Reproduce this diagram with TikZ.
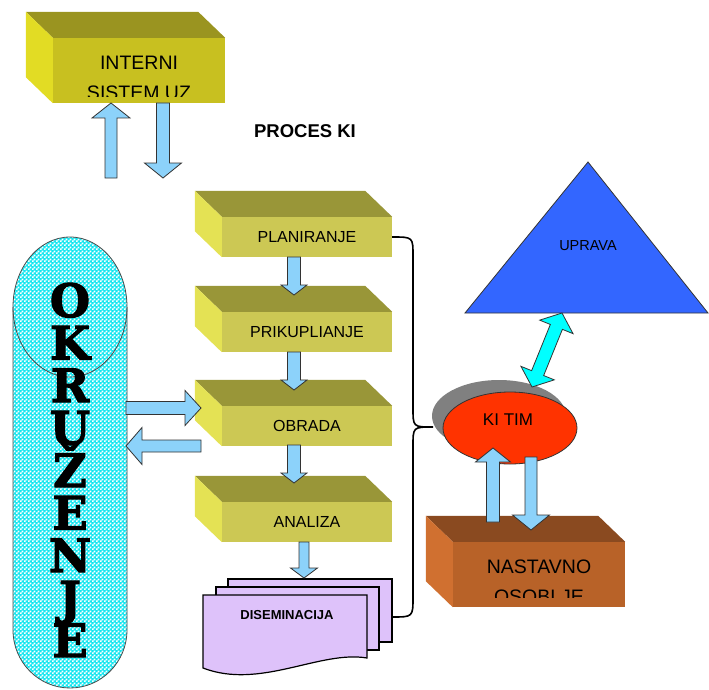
\documentclass[tikz,border=0pt]{standalone}
\usepackage{fontspec}
\setmainfont{Liberation Sans}
\newfontfamily\envfont{DejaVu Serif}[BoldFeatures={FakeBold=2.5}]
\usetikzlibrary{calc}
\usetikzlibrary{patterns}
\usetikzlibrary{shapes.geometric}
\definecolor{procfront}{RGB}{204,200,84}
\definecolor{proctop}{RGB}{153,150,56}
\definecolor{procside}{RGB}{228,226,84}
\definecolor{sysfront}{RGB}{200,192,32}
\definecolor{systop}{RGB}{154,148,32}
\definecolor{sysside}{RGB}{226,220,36}
\definecolor{stafffront}{RGB}{184,98,40}
\definecolor{stafftop}{RGB}{138,74,32}
\definecolor{staffside}{RGB}{208,112,48}
\definecolor{arrowblue}{RGB}{140,210,250}
\definecolor{arrowcyan}{RGB}{0,255,255}
\definecolor{docfill}{RGB}{222,194,250}
\definecolor{kired}{RGB}{255,51,0}
\definecolor{upblue}{RGB}{51,102,255}
\definecolor{envcyan}{RGB}{20,230,240}
% white squares for the dotted fill
\pgfdeclarepatternformonly{envdots}{\pgfpoint{0pt}{0pt}}{\pgfpoint{4pt}{4pt}}{\pgfpoint{4pt}{4pt}}{%
  \pgfpathrectangle{\pgfpoint{0pt}{0pt}}{\pgfpoint{2.1pt}{2.1pt}}
  \pgfpathrectangle{\pgfpoint{2pt}{2pt}}{\pgfpoint{2.1pt}{2.1pt}}
  \pgfusepath{fill}}
\tikzset{
  procbox/.style={fill=procfront, minimum width=170pt, minimum height=40pt, inner sep=0pt, font=\fontsize{16}{18}\selectfont},
  sysbox/.style={fill=sysfront, minimum width=172pt, minimum height=65pt, inner sep=0pt},
  staffbox/.style={fill=stafffront, minimum width=172pt, minimum height=65pt, inner sep=0pt},
  bigtext/.style={font=\fontsize{19.5}{22}\selectfont, anchor=base, inner sep=0pt},
  barrow/.style={fill=arrowblue, draw=black!80, line width=0.8pt},
  carrow/.style={fill=arrowcyan, draw=black!80, line width=0.8pt},
  docsheet/.style={fill=docfill, draw=black, line width=1.2pt},
  envletter/.style={font=\envfont\bfseries\fontsize{46}{46}\selectfont, anchor=base, inner sep=0pt},
}
% top and left faces of a box whose front face is node #1
\newcommand\slabfaces[3]{%
  \fill[#2] (#1.north west) -- ++(-27,-26) -- ($(#1.north east)+(-27,-26)$) -- (#1.north east) -- cycle;
  \fill[#3] (#1.north west) -- ++(-27,-26) -- ($(#1.south west)+(-27,-26)$) -- (#1.south west) -- cycle;
}
% block arrow: from, to, shaft half width, head half width, head length
\newcommand\blockarrow[5]{%
  \coordinate (hb) at ($(#2)!#5!(#1)$);
  \filldraw[barrow] ($(#1)!#3!90:(#2)$) -- ($(hb)!#3!90:(#2)$) -- ($(hb)!#4!90:(#2)$) -- (#2)
    -- ($(hb)!#4!-90:(#2)$) -- ($(hb)!#3!-90:(#2)$) -- ($(#1)!#3!-90:(#2)$) -- cycle;
}
% double block arrow
\newcommand\dblarrow[5]{%
  \coordinate (ha) at ($(#1)!#5!(#2)$);
  \coordinate (hb) at ($(#2)!#5!(#1)$);
  \filldraw[carrow] (#1) -- ($(ha)!#4!90:(#2)$) -- ($(ha)!#3!90:(#2)$) -- ($(hb)!#3!90:(#2)$) -- ($(hb)!#4!90:(#2)$) -- (#2)
    -- ($(hb)!#4!-90:(#2)$) -- ($(hb)!#3!-90:(#2)$) -- ($(ha)!#3!-90:(#2)$) -- ($(ha)!#4!-90:(#2)$) -- cycle;
}
\begin{document}
\begin{tikzpicture}[x=1pt, y=-1pt]
\useasboundingbox (0,0) rectangle (709,690);

% okruzenje
\path[fill=envcyan, postaction={pattern=envdots, pattern color=white}, postaction={draw=black!70, line width=0.8pt}]
  (13,307) .. controls (13,268.3) and (38.5,237) .. (70,237) .. controls (101.5,237) and (127,268.3) .. (127,307)
  -- (127,630) .. controls (127,662) and (101.5,688) .. (70,688) .. controls (38.5,688) and (13,662) .. (13,630) -- cycle;
\draw[black!70, line width=0.8pt] (13,307) .. controls (13,345.7) and (38.5,377) .. (70,377) .. controls (101.5,377) and (127,345.7) .. (127,307);
\foreach \ch [count=\i] in {O,K,R,U,Ž,E,N,J,E}
  \node[envletter] (env\i) at (70,{317+42.5*(\i-1)}) {\ch};

% interni sistem
\node[sysbox] (intsys) at (139,70.5) {};
\slabfaces{intsys}{systop}{sysside}
\begin{scope}
  \clip (intsys.north west) rectangle ($(intsys.south east)+(0,-7)$);
  \node[bigtext] (intline1) at (139,70) {INTERNI};
  \node[bigtext] (intline2) at (139,100) {SISTEM UZ};
\end{scope}

\node[font=\bfseries\fontsize{18.5}{20}\selectfont] (title) at (305,131) {PROCES KI};

% process boxes
\node[procbox] (plan) at (307,237) {PLANIRANJE};
\node[procbox] (prik) at (307,332) {PRIKUPLIANJE};
\node[procbox] (obr) at (307,426) {OBRADA};
\node[procbox] (anal) at (307,522) {ANALIZA};
\foreach \n in {plan,prik,obr,anal} {
  \slabfaces{\n}{proctop}{procside}
}

% diseminacija
\filldraw[docsheet] (228,579) rectangle (392,642);
\filldraw[docsheet] (216,587) rectangle (379,650);
\filldraw[docsheet] (203,595) -- (367,595) -- (367,658) .. controls (320,650) and (260,690) .. (203,668) -- cycle;
\node[font=\bfseries\fontsize{13}{15}\selectfont] (dissem) at (287,615) {DISEMINACIJA};

% brace
\coordinate (bracetip) at (433,427);
\coordinate (bracebot) at (392,617);
\draw[line width=1.6pt] (plan.east) .. controls (413,237) .. (413,256) -- (413,408)
  .. controls (413,427) .. (bracetip) .. controls (413,427) .. (413,446) -- (413,597)
  .. controls (413,617) .. (bracebot);

% uprava
\coordinate (uptop) at (588,162);
\coordinate (upleft) at (465,313);
\coordinate (upright) at (708,313);
\filldraw[fill=upblue, draw=black!80, line width=0.8pt] (uptop) -- (upright) -- (upleft) -- cycle;
\node[font=\fontsize{14.5}{16}\selectfont] (uprava) at (588,246) {UPRAVA};

% ki tim
\fill[gray] (499,416) ellipse [x radius=67, y radius=36];
\node[ellipse, fill=kired, draw=black!80, line width=0.8pt, minimum width=134pt, minimum height=72pt] (kitim) at (510,428) {};
\node[font=\fontsize{17}{19}\selectfont] (kitext) at (508,420) {KI TIM};

% nastavno osoblje
\node[staffbox] (staff) at (539,574.5) {};
\slabfaces{staff}{stafftop}{staffside}
\begin{scope}
  \clip (staff.north west) rectangle ($(staff.south east)+(0,-10)$);
  \node[bigtext] (staffline1) at (539,573) {NASTAVNO};
  \node[bigtext] (staffline2) at (539,603) {OSOBLJE};
\end{scope}

% arrows
\coordinate (intupA) at (111,178);
\coordinate (intupB) at (111,103);
\coordinate (intdnA) at (163,103);
\coordinate (intdnB) at (163,178);
\blockarrow{intupA}{intupB}{6pt}{19pt}{15pt}
\blockarrow{intdnA}{intdnB}{6.5pt}{18.5pt}{15pt}
\coordinate (p1a) at (294,257);
\coordinate (p1b) at (294,295);
\coordinate (p2a) at (294,352);
\coordinate (p2b) at (294,390);
\coordinate (p3a) at (294,445);
\coordinate (p3b) at (294,483);
\coordinate (p4a) at (304,542);
\coordinate (p4b) at (304,578);
\blockarrow{p1a}{p1b}{6.5pt}{13pt}{10pt}
\blockarrow{p2a}{p2b}{6.5pt}{13pt}{10pt}
\blockarrow{p3a}{p3b}{6.5pt}{13pt}{10pt}
\blockarrow{p4a}{p4b}{5pt}{13.5pt}{10pt}
\coordinate (envout) at (126,408);
\coordinate (obrin) at (201,408);
\coordinate (obrout) at (201,446);
\coordinate (envin) at (126,446);
\blockarrow{envout}{obrin}{6.5pt}{17.5pt}{16pt}
\blockarrow{obrout}{envin}{6pt}{18.5pt}{16pt}
\coordinate (staffup) at (493,522);
\coordinate (kiin) at (493,448);
\coordinate (kiout) at (531,457);
\coordinate (staffdn) at (531,530);
\blockarrow{staffup}{kiin}{6.5pt}{17.5pt}{14pt}
\blockarrow{kiout}{staffdn}{6pt}{18.5pt}{15pt}
\coordinate (kitop) at (532,387);
\coordinate (upbase) at (562,313);
\dblarrow{kitop}{upbase}{6.5pt}{18pt}{15pt}
\end{tikzpicture}
\end{document}
